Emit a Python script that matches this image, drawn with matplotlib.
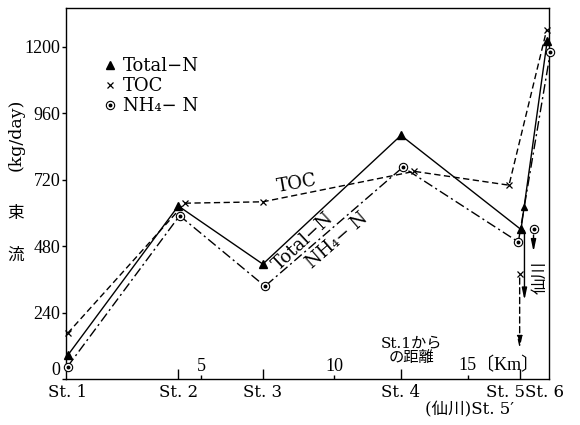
import matplotlib
matplotlib.use("Agg")
import matplotlib.pyplot as plt
from matplotlib.legend_handler import HandlerTuple
from matplotlib.transforms import blended_transform_factory, offset_copy

# ---- data ---------------------------------------------------------------
stations = ["St. 1", "St. 2", "St. 3", "St. 4", "St. 5", "St. 6"]
station_km = [0.0, 4.15, 7.32, 12.5, 16.95, 17.98]

tn_km = [0.0, 4.15, 7.32, 12.5, 17.0, 17.98]
tn_val = [85, 625, 415, 880, 540, 1220]

toc_km = [0.0, 4.4, 7.32, 13.0, 16.55, 17.96]
toc_val = [165, 635, 640, 750, 700, 1260]

nh4_km = [0.0, 4.2, 7.4, 12.57, 16.9, 18.1]
nh4_val = [45, 590, 335, 765, 495, 1180]

# inflow from the Senkawa (St.5'): position, value, arrow end
sen_toc = (16.95, 380, 110)
sen_nh4 = (17.47, 540, 460)
sen_tn = (17.13, 535, 285)

y_ticks = [0, 240, 480, 720, 960, 1200]
km_ticks = [5, 10, 15]

# ---- figure -------------------------------------------------------------
plt.rcParams["font.family"] = ["DejaVu Serif", "Noto Sans CJK JP"]
plt.rcParams["mathtext.fontset"] = "dejavuserif"

fig = plt.figure(figsize=(5.8, 4.25), dpi=100)
ax = fig.add_axes([66 / 580, 46 / 425, 483 / 580, 371 / 425])
ax.set_xlim(-0.06, 18.05)
ax.set_ylim(0, 1340)

lw = 1.0
tn_line, = ax.plot(tn_km, tn_val, color="k", lw=lw, marker="^", ms=5.5,
                   clip_on=False, zorder=3)
toc_line, = ax.plot(toc_km, toc_val, color="k", lw=lw, ls=(0, (4.5, 2.5)),
                    marker="x", ms=5, mew=0.9, clip_on=False, zorder=3)
nh4_line, = ax.plot(nh4_km, nh4_val, color="k", lw=lw,
                    ls=(0, (7, 2.5, 1.5, 2.5)), marker="o", ms=6, mfc="white",
                    mec="k", mew=0.8, clip_on=False, zorder=4)
nh4_dot, = ax.plot(nh4_km, nh4_val, ls="none", marker="o", ms=1.8, color="k",
                   clip_on=False, zorder=5)

# flow-direction arrowhead on the Total-N rise from St.5 to St.6
f = 0.12
ax.plot(tn_km[4] + f * (tn_km[5] - tn_km[4]),
        tn_val[4] + f * (tn_val[5] - tn_val[4]),
        marker="^", ms=5, color="k", zorder=3)

# Senkawa inflow points and arrows
ax.plot(sen_toc[0], sen_toc[1], marker="x", ms=5, mew=0.9, color="k")
ax.annotate("", xy=(sen_toc[0], sen_toc[2]), xytext=(sen_toc[0], sen_toc[1]),
            arrowprops=dict(arrowstyle="-|>,head_length=0.7,head_width=0.15",
                            color="k", lw=lw, ls=(0, (4.5, 2.5)),
                            shrinkA=3, shrinkB=0))
ax.plot(sen_nh4[0], sen_nh4[1], marker="o", ms=6, mfc="white", mec="k",
        mew=0.8, zorder=4)
ax.plot(sen_nh4[0], sen_nh4[1], marker="o", ms=1.8, color="k", zorder=5)
ax.annotate("", xy=(sen_nh4[0], sen_nh4[2]), xytext=(sen_nh4[0], sen_nh4[1]),
            arrowprops=dict(arrowstyle="-|>,head_length=0.7,head_width=0.15",
                            color="k", lw=lw, shrinkA=4, shrinkB=0))
ax.annotate("", xy=(sen_tn[0], sen_tn[2]), xytext=(sen_tn[0], sen_tn[1]),
            arrowprops=dict(arrowstyle="-|>,head_length=0.7,head_width=0.15",
                            color="k", lw=lw, shrinkA=0, shrinkB=0))
ax.text(17.7, 368, "仙川", rotation=90, ha="center", va="center",
        fontsize=12, family="Noto Sans CJK JP")

# line labels
ax.text(8.6, 705, "TOC", rotation=10, ha="center", va="center", fontsize=13)
ax.text(8.82, 498, "Total−N", rotation=43, ha="center", va="center",
        rotation_mode="anchor", fontsize=13)
ax.text(10.09, 500, "NH₄− N", rotation=41, ha="center", va="center",
        rotation_mode="anchor", fontsize=13)

# ---- axes styling -------------------------------------------------------
for s in ax.spines.values():
    s.set_linewidth(1.0)

ax.set_yticks(y_ticks)
ax.set_yticklabels([str(v) for v in y_ticks], family="Liberation Serif",
                   fontsize=13)
ax.get_yticklabels()[0].set_va("bottom")
ax.tick_params(axis="y", direction="out", length=3, width=1, pad=1)

ax.set_xticks(station_km[1:5])
ax.set_xticks(km_ticks, minor=True)
ax.tick_params(axis="x", which="major", direction="in", length=7, width=1,
               labelbottom=False)
ax.tick_params(axis="x", which="minor", direction="in", length=3, width=1,
               labelbottom=False)

xb = blended_transform_factory(ax.transData, ax.transAxes)
label_shift = {4: -14, 5: -3}
for i, (name, km) in enumerate(zip(stations, station_km)):
    tr = offset_copy(xb, fig=fig, x=label_shift.get(i, 0) / 100 * 72,
                     units="points")
    ax.text(km, -0.036, name, transform=tr, ha="center", va="center",
            fontsize=12)
tr5 = offset_copy(xb, fig=fig, x=-6 / 100 * 72, units="points")
ax.text(station_km[4], -0.082, "(仙川)St. 5′", transform=tr5, ha="right",
        va="center", fontsize=12)

for k in km_ticks[:2]:
    ax.text(k, 0.035, str(k), transform=xb, ha="center", va="center",
            family="Liberation Serif", fontsize=13)
ax.text(km_ticks[2] - 0.33, 0.035, f"{km_ticks[2]}〔Km〕", transform=xb,
        ha="left", va="center", family=["Liberation Serif", "Noto Sans CJK JP"],
        fontsize=13)
ax.text(12.9, 0.075, "St.1から\nの距離", transform=xb, ha="center",
        va="center", fontsize=11, linespacing=1.05)

# y-axis caption: upright kanji stacked, unit rotated
ax.text(-0.1035, 0.658, "(kg/day)", transform=ax.transAxes, rotation=90,
        ha="center", va="center", fontsize=12.5)
ax.text(-0.1035, 0.447, "束", transform=ax.transAxes, ha="center",
        va="center", fontsize=12, family="Noto Sans CJK JP")
ax.text(-0.1035, 0.334, "流", transform=ax.transAxes, ha="center",
        va="center", fontsize=12, family="Noto Sans CJK JP")

# legend: markers only
ax.legend([tn_line, toc_line, (nh4_line, nh4_dot)],
          ["Total−N", "TOC", "NH₄− N"],
          handler_map={tuple: HandlerTuple(ndivide=1, pad=0)},
          loc="upper left", bbox_to_anchor=(0.092, 0.868), frameon=False,
          handlelength=0, handletextpad=0.7, labelspacing=0.12,
          borderpad=0, borderaxespad=0, fontsize=13)

fig.savefig("out.png", dpi=100)
